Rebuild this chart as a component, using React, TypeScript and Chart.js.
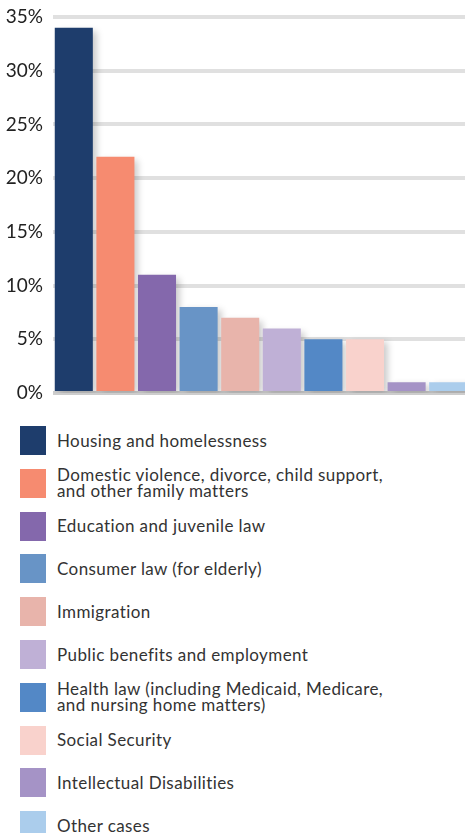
import React, { useEffect, useRef } from "react";
import { Chart, registerables } from "chart.js";

Chart.register(...registerables);

const categories: string[] = [
  "Housing and homelessness",
  "Domestic violence, divorce, child support, and other family matters",
  "Education and juvenile law",
  "Consumer law (for elderly)",
  "Immigration",
  "Public benefits and employment",
  "Health law (including Medicaid, Medicare, and nursing home matters)",
  "Social Security",
  "Intellectual Disabilities",
  "Other cases",
];

const shares: number[] = [34, 22, 11, 8, 7, 6, 5, 5, 1, 1];

const barColors: string[] = [
  "#1e3d6c",
  "#f68b70",
  "#8468ac",
  "#6894c6",
  "#e8b4ab",
  "#bfb0d6",
  "#5388c6",
  "#f9d2cc",
  "#a593c6",
  "#abcdec",
];

const yTicks: number[] = [0, 5, 10, 15, 20, 25, 30, 35];

const shadowPlugin = {
  id: "barShadow",
  beforeDatasetsDraw(chart: any) {
    const ctx = chart.ctx;
    ctx.save();
    ctx.shadowColor = "rgba(0,0,0,0.22)";
    ctx.shadowBlur = 7;
    ctx.shadowOffsetX = 4;
    ctx.shadowOffsetY = 3;
  },
  afterDatasetsDraw(chart: any) {
    chart.ctx.restore();
  },
};

export default function App() {
  const canvasRef = useRef<HTMLCanvasElement | null>(null);

  useEffect(() => {
    if (!canvasRef.current) return;
    const chart = new Chart(canvasRef.current, {
      type: "bar",
      data: {
        labels: categories,
        datasets: [
          {
            data: shares,
            backgroundColor: barColors,
            borderWidth: 0,
            barPercentage: 0.915,
            categoryPercentage: 1,
          },
        ],
      },
      options: {
        responsive: false,
        animation: false,
        devicePixelRatio: 1,
        layout: { padding: { top: 17, bottom: 17, left: 0, right: 11 } },
        plugins: {
          legend: { display: false },
          tooltip: { enabled: false },
        },
        scales: {
          x: { display: false },
          y: {
            min: 0,
            max: 35,
            afterBuildTicks: (scale: any) => {
              scale.ticks = yTicks.map((v) => ({ value: v }));
            },
            afterFit: (scale: any) => {
              scale.width = 53;
            },
            border: { display: false },
            grid: {
              drawTicks: false,
              lineWidth: 4,
              color: (c: any) => (c.tick && c.tick.value === 0 ? "#cdcdcd" : "#e0e0e0"),
            },
            ticks: {
              padding: 10,
              color: "#222222",
              font: { family: "Lato", size: 19, lineHeight: 0.5 },
              callback: (v: any) => v + "%",
            },
          },
        },
      },
      plugins: [shadowPlugin],
    });
    return () => chart.destroy();
  }, []);

  return (
    <div
      style={{
        position: "fixed",
        left: 0,
        top: 0,
        width: 465,
        height: 833,
        overflow: "hidden",
        background: "#ffffff",
        fontFamily: "Lato, sans-serif",
      }}
    >
      <canvas
        ref={canvasRef}
        width={480}
        height={410}
        style={{ position: "absolute", left: 0, top: 0, width: 480, height: 410 }}
      />
      {categories.map((name, i) => (
        <div
          key={name}
          style={{
            position: "absolute",
            left: 20,
            top: 426 + i * 42.8,
            height: 29,
            display: "flex",
            alignItems: "center",
          }}
        >
          <div style={{ width: 26, height: 29, background: barColors[i], flex: "0 0 auto" }} />
          <div
            style={{
              marginLeft: 11,
              width: 340,
              fontSize: 17,
              lineHeight: "16px",
              color: "#333333",
              letterSpacing: 0.4,
            }}
          >
            {name}
          </div>
        </div>
      ))}
    </div>
  );
}
